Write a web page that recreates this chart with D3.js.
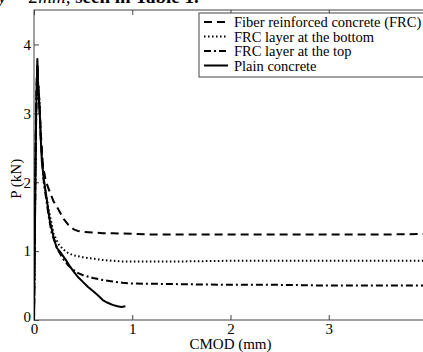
<!DOCTYPE html>
<html>
<head>
<meta charset="utf-8">
<script src="https://cdn.jsdelivr.net/npm/d3@7"></script>
<style>
  body { margin: 0; background: #fff; }
  svg { display: block; font-family: "Liberation Serif", "Times New Roman", serif; }
</style>
</head>
<body>
<div id="chart"></div>
<script>
// CMOD (mm) vs P (kN)
const plainX = [0, 0.004, 0.01, 0.016, 0.022, 0.028, 0.034, 0.038, 0.042, 0.046, 0.05, 0.06, 0.07, 0.08, 0.1, 0.13, 0.16, 0.2, 0.23, 0.26, 0.28, 0.32, 0.36, 0.4, 0.45, 0.5, 0.55, 0.6, 0.65, 0.7, 0.75, 0.8, 0.85, 0.89, 0.93];
const plainY = [0, 0.6, 1.4, 2.3, 3.0, 3.4, 3.79, 3.6, 3.3, 3.4, 3.2, 2.95, 2.6, 2.3, 2.05, 1.75, 1.45, 1.2, 1.05, 1.0, 0.96, 0.88, 0.79, 0.71, 0.62, 0.55, 0.48, 0.42, 0.36, 0.29, 0.25, 0.22, 0.2, 0.19, 0.2];

const frcX = [0, 0.005, 0.012, 0.02, 0.028, 0.035, 0.042, 0.05, 0.07, 0.09, 0.12, 0.16, 0.2, 0.25, 0.3, 0.35, 0.4, 0.45, 0.5, 0.6, 0.7, 0.8, 1.0, 1.2, 1.5, 2.0, 2.5, 3.0, 3.5, 4.0];
const frcY = [0, 0.8, 1.9, 2.9, 3.5, 3.72, 3.4, 3.3, 2.7, 2.25, 2.02, 1.86, 1.72, 1.6, 1.47, 1.38, 1.32, 1.29, 1.28, 1.27, 1.26, 1.26, 1.25, 1.24, 1.24, 1.24, 1.24, 1.24, 1.24, 1.25];

const bottomX = [0, 0.006, 0.014, 0.022, 0.03, 0.036, 0.044, 0.055, 0.07, 0.1, 0.15, 0.2, 0.25, 0.3, 0.35, 0.4, 0.5, 0.6, 0.7, 0.8, 0.9, 1.0, 1.5, 2.0, 2.5, 3.0, 3.5, 4.0];
const bottomY = [0, 0.9, 2.1, 3.0, 3.5, 3.7, 3.35, 3.2, 2.6, 2.0, 1.6, 1.25, 1.1, 1.02, 0.97, 0.94, 0.91, 0.89, 0.87, 0.86, 0.85, 0.85, 0.85, 0.86, 0.86, 0.86, 0.86, 0.86];

const topX = [0, 0.006, 0.014, 0.022, 0.03, 0.036, 0.044, 0.055, 0.07, 0.1, 0.15, 0.18, 0.22, 0.25, 0.3, 0.35, 0.4, 0.45, 0.5, 0.6, 0.7, 0.8, 0.9, 1.0, 1.5, 2.0, 2.5, 3.0, 3.5, 4.0];
const topY = [0, 0.9, 2.0, 3.0, 3.45, 3.65, 3.3, 3.15, 2.6, 2.0, 1.5, 1.26, 1.1, 1.0, 0.88, 0.79, 0.73, 0.68, 0.65, 0.61, 0.58, 0.56, 0.54, 0.53, 0.52, 0.51, 0.51, 0.5, 0.5, 0.5];

const seriesNames = ['Fiber reinforced concrete (FRC)', 'FRC layer at the bottom', 'FRC layer at the top', 'Plain concrete'];
const seriesDash = ['8,5', '1.5,2.5', '7,3,2,3', null];
const xTicks = [0, 1, 2, 3];
const yTicks = [0, 1, 2, 3, 4];

const width = 423, height = 352;
const svg = d3.select('#chart').append('svg')
  .attr('width', width)
  .attr('height', height);

// cropped caption line from the page above
svg.append('text')
  .attr('x', -2)
  .attr('y', 3)
  .style('font-size', '19px')
  .style('fill', '#000')
  .call(t => {
    t.append('tspan').style('font-style', 'italic').text('y = 2mm, ');
    t.append('tspan').style('font-weight', 'bold').text('seen in Table 1.');
  });

const x = d3.scaleLinear().domain([0, 4]).range([34, 427]);
const y = d3.scaleLinear().domain([0, 4.5]).range([320, 10]);

const axisColor = '#444';

// frame
svg.append('rect')
  .attr('x', x(0)).attr('y', y(4.5))
  .attr('width', x(4) - x(0)).attr('height', y(0) - y(4.5))
  .style('fill', 'none').style('stroke', axisColor).style('stroke-width', 1);

// inward ticks on all sides
const xa = svg.append('g').attr('transform', `translate(0,${y(0)})`)
  .call(d3.axisBottom(x).tickValues(xTicks).tickSize(-5).tickPadding(3).tickFormat(d3.format('d')));
const xt = svg.append('g').attr('transform', `translate(0,${y(4.5)})`)
  .call(d3.axisTop(x).tickValues(xTicks).tickSize(-5).tickFormat(''));
const ya = svg.append('g').attr('transform', `translate(${x(0)},0)`)
  .call(d3.axisLeft(y).tickValues(yTicks).tickSize(-5).tickPadding(3).tickFormat(d3.format('d')));

[xa, xt, ya].forEach(g => {
  g.select('.domain').remove();
  g.selectAll('line').style('stroke', axisColor);
  g.selectAll('text').style('font-family', '"Liberation Serif", serif').style('font-size', '15px').style('fill', '#000');
});
ya.selectAll('.tick').filter(d => d === 0).select('text').attr('dy', '0.1em');

svg.append('text')
  .attr('x', x(2)).attr('y', 349)
  .attr('text-anchor', 'middle')
  .style('font-size', '15px')
  .text('CMOD (mm)');

svg.append('text')
  .attr('transform', `translate(21,${y(2.05)}) rotate(-90)`)
  .attr('text-anchor', 'middle')
  .style('font-size', '15px')
  .text('P (kN)');

// curves
const line = d3.line().x(d => x(d[0])).y(d => y(d[1]));
const data = [
  d3.zip(frcX, frcY),
  d3.zip(bottomX, bottomY),
  d3.zip(topX, topY),
  d3.zip(plainX, plainY)
];

svg.append('defs').append('clipPath').attr('id', 'plot-clip')
  .append('rect')
  .attr('x', x(0)).attr('y', y(4.5))
  .attr('width', x(4) - x(0)).attr('height', y(0) - y(4.5));

svg.append('g').attr('clip-path', 'url(#plot-clip)')
  .selectAll('path')
  .data(data)
  .enter()
  .append('path')
  .attr('d', line)
  .style('fill', 'none')
  .style('stroke', '#000')
  .style('stroke-width', 2)
  .style('stroke-linejoin', 'round')
  .style('stroke-dasharray', (d, i) => seriesDash[i]);

// legend
const legend = svg.append('g');
legend.append('rect')
  .attr('x', 199).attr('y', 13)
  .attr('width', 240).attr('height', 64)
  .style('fill', '#fff').style('stroke', axisColor).style('stroke-width', 1);

const rows = legend.selectAll('.row')
  .data(seriesNames)
  .enter()
  .append('g')
  .attr('class', 'row')
  .attr('transform', (d, i) => `translate(0,${22 + i * 14.5})`);

rows.append('line')
  .attr('x1', 204).attr('x2', 228)
  .attr('y1', 0).attr('y2', 0)
  .style('stroke', '#000')
  .style('stroke-width', 2)
  .style('stroke-dasharray', (d, i) => seriesDash[i]);

rows.append('text')
  .attr('x', 234).attr('y', 5)
  .style('font-size', '14.5px')
  .text(d => d);
</script>
</body>
</html>
